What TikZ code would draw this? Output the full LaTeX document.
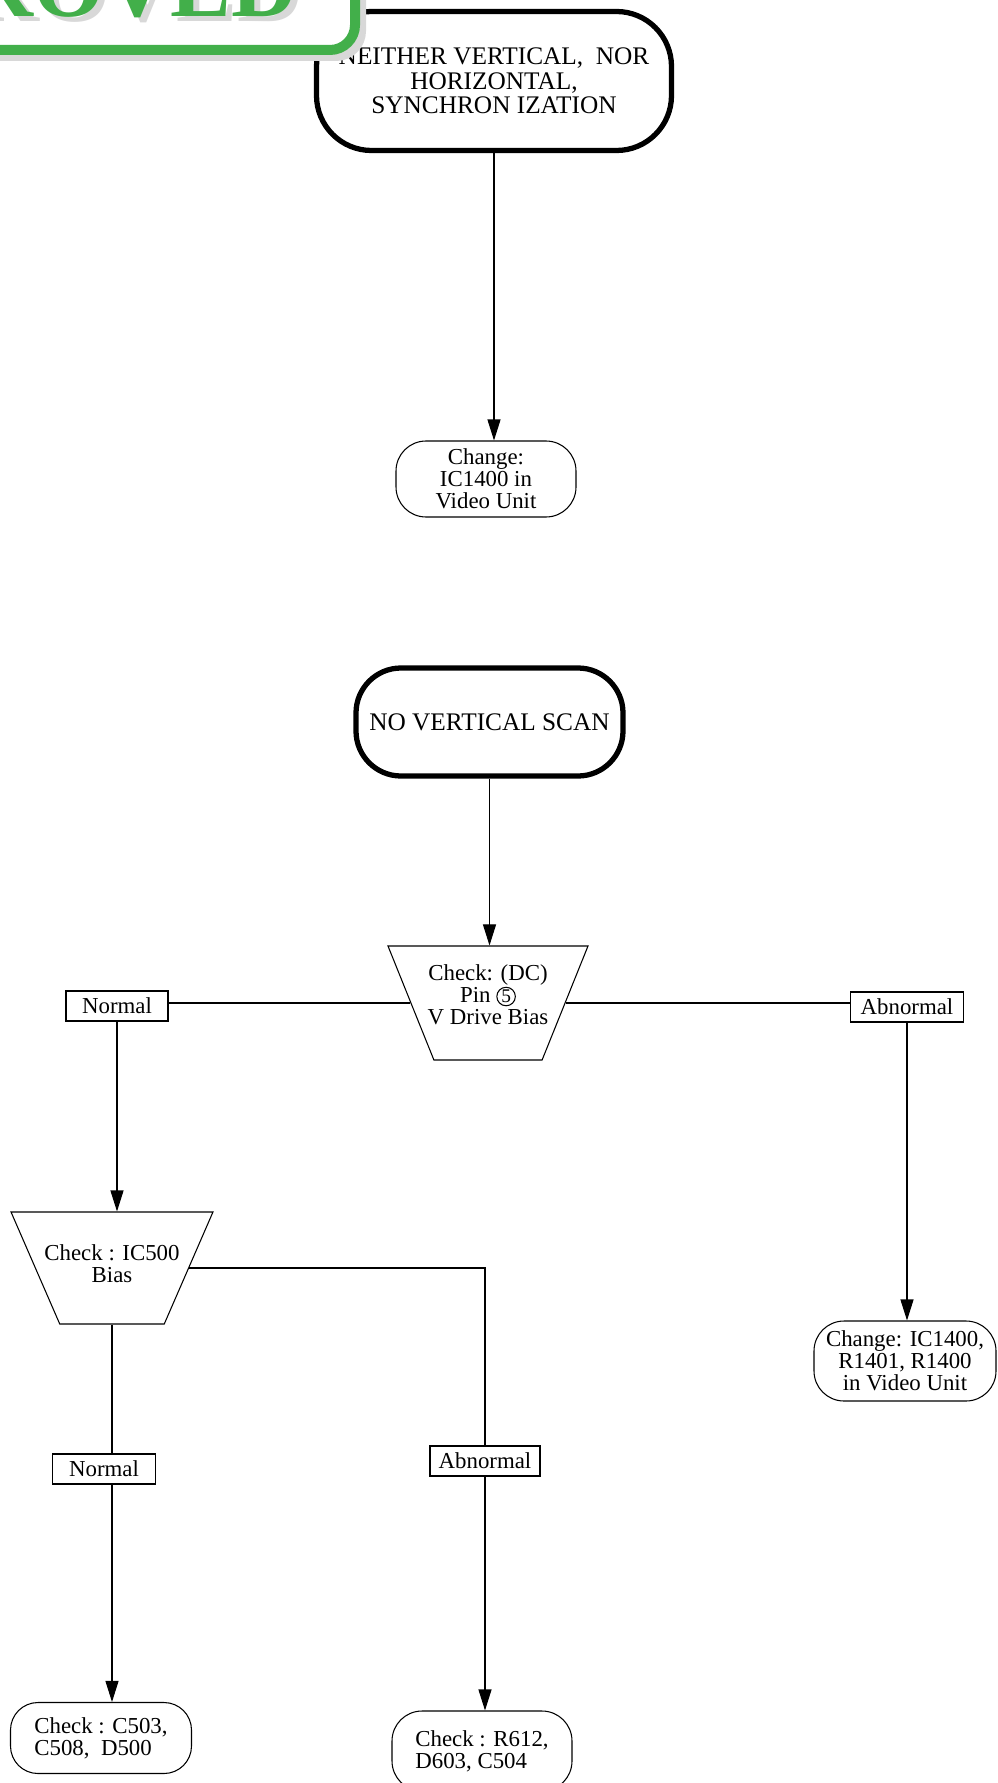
\documentclass[tikz,border=0pt]{standalone}
\usepackage{fontspec}
\setmainfont{Liberation Serif}
\usepackage{tikz}
\usepackage{color}
\usetikzlibrary{shapes.geometric,arrows.meta}
\definecolor{stampgreen}{RGB}{66,175,74}
\definecolor{stampgray}{RGB}{216,216,216}
\newcommand{\pinMark}[1]{\tikz[baseline=(pm.base)]\node[draw,circle,inner sep=0.5pt,line width=0.6pt] (pm) {\fontsize{11}{11}\selectfont #1};}

\begin{document}
\begin{tikzpicture}[line width=0.6pt,
  every node/.style={font=\fontsize{13}{12.5}\selectfont},
  term/.style={draw,line width=3pt,align=center,inner sep=2pt,font=\fontsize{14.4}{14}\selectfont},
  stad/.style={draw,rounded corners=0.6cm,align=center,minimum width=3.6cm},
  trap/.style={draw,trapezium,shape border rotate=180,trapezium stretches=true,inner sep=2pt},
  lbl/.style={draw,inner sep=1pt,minimum height=0.6cm},
  arr/.style={-{Triangle[length=0.42cm,width=0.26cm]}}]

  \useasboundingbox (0,0) rectangle (19.94,-35.66);
  \clip (0,0) rectangle (19.94,-35.66);

  %upper chart
  \node[term,minimum width=7.1cm,minimum height=2.78cm,rounded corners=1.1cm] (top) at (9.88,-1.62) {NEITHER VERTICAL,\ \ NOR\\HORIZONTAL,\\SYNCHRON IZATION};
  \node[stad,minimum height=1.52cm] (chg1) at (9.72,-9.58) {Change:\\IC1400 in\\Video Unit};
  \draw[arr] (top.south) -- (top.south |- chg1.north);

  %lower chart
  \node[term,minimum width=5.34cm,minimum height=2.16cm,rounded corners=0.9cm] (novs) at (9.79,-14.44) {NO VERTICAL SCAN};

  %checks
  \node[trap,trapezium left angle=67,trapezium right angle=67,minimum width=4cm,minimum height=2.28cm] (chk1) at (9.76,-20.06) {};
  \node[align=center] (chk1t) at ([yshift=0.16cm]chk1.center) {Check: (DC)\\Pin \pinMark{5}\\V Drive Bias};
  \node[trap,trapezium left angle=65,trapezium right angle=65,minimum width=4.04cm,minimum height=2.24cm] (chk2) at (2.24,-25.36) {};
  \node[align=center] (chk2t) at ([yshift=0.08cm]chk2.center) {Check : IC500\\Bias};

  %labels
  \node[lbl,minimum width=2.04cm] (nrm1) at (2.34,-20.12) {Normal};
  \node[lbl,minimum width=2.26cm] (abn1) at (18.14,-20.14) {Abnormal};
  \node[lbl,minimum width=2.2cm] (abn2) at (9.70,-29.22) {Abnormal};
  \node[lbl,minimum width=2.06cm] (nrm2) at (2.08,-29.38) {Normal};

  %results
  \node[stad,minimum width=3.64cm,minimum height=1.6cm] (chg2) at (18.1,-27.22) {Change: IC1400,\\R1401, R1400\\in Video Unit};
  \node[stad,align=left,minimum width=3.62cm,minimum height=1.42cm,rounded corners=0.55cm] (chkc) at (2.02,-34.76) {Check : C503,\\C508,\ \ D500};
  \node[stad,align=left,minimum height=1.6cm] (chkr) at (9.64,-35.02) {Check : R612,\\D603, C504};

  %connectors
  \draw[arr] (novs.south) -- (novs.south |- chk1.north);
  \draw (chk1.west) -- (chk1.west -| nrm1.east);
  \draw (chk1.east) -- (chk1.east -| abn1.west);
  \draw[arr] (nrm1.south) -- (nrm1.south |- chk2.north);
  \draw[arr] (abn1.south) -- (abn1.south |- chg2.north);
  \draw (chk2.east) -| (abn2.north);
  \draw (chk2.south) -- (chk2.south |- nrm2.north);
  \draw[arr] (nrm2.south -| chk2.south) -- (chk2.south |- chkc.north);
  \draw[arr] (abn2.south) -- (abn2.south |- chkr.north);

  %stamp
  \draw[stampgray,line width=0.2cm,rounded corners=0.5cm] (-3,2) rectangle (7.22,-1.12);
  \draw[stampgreen,line width=0.2cm,fill=white,rounded corners=0.5cm] (-3,2) rectangle (7.1,-1.0);
  \node[anchor=base east,text=stampgray,font=\fontsize{52}{52}\selectfont\bfseries] (stampsh) at (6.2,-0.44) {APPROVED};
  \node[anchor=base east,text=stampgreen,font=\fontsize{52}{52}\selectfont\bfseries] (stamp) at (6.08,-0.34) {APPROVED};

\end{tikzpicture}
\end{document}
